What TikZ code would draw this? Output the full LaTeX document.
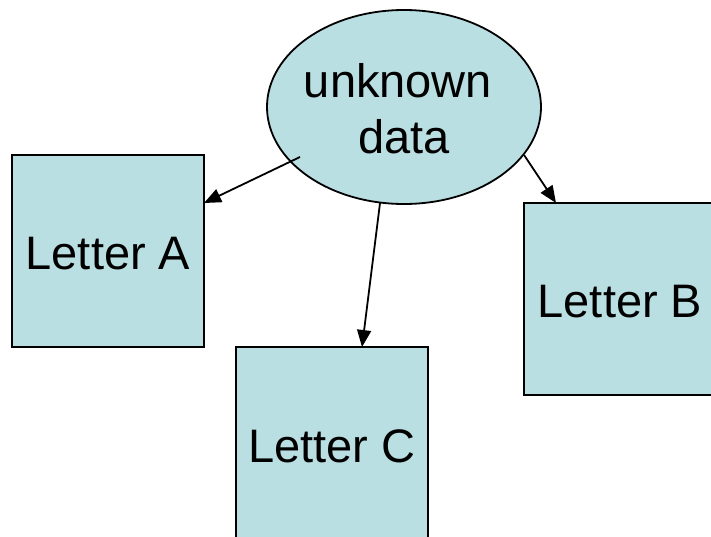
\documentclass[tikz,border=0pt]{standalone}
\usepackage{fontspec}
\setmainfont{Liberation Sans}
\usetikzlibrary{arrows.meta,shapes.geometric}
\definecolor{boxfill}{RGB}{186,223,226}
\newcommand{\lowtext}[2]{\raisebox{-#1}[\height][\depth]{#2}}
\begin{document}
\begin{tikzpicture}[x=1pt,y=-1pt,
  letterbox/.style={draw=black,line width=1.8pt,fill=boxfill,minimum width=192pt,minimum height=192pt,inner sep=0pt,font=\fontsize{47}{54}\selectfont},
  blob/.style={ellipse,draw=black,line width=1.8pt,fill=boxfill,minimum width=274pt,minimum height=194pt,inner sep=0pt,font=\fontsize{47}{56}\selectfont},
  conn/.style={line width=1.8pt,-{Triangle[length=17pt,width=14pt]}}]
\useasboundingbox (0,0) rectangle (711,536);
\clip (0,0) rectangle (711,536);
\node[letterbox] (a) at (108,251) {\lowtext{3pt}{Letter A}};
\node[letterbox] (c) at (332,443) {\lowtext{3pt}{Letter C}};
\node[letterbox] (b) at (620,299) {\lowtext{3pt}{Letter B}};
\node[blob] (u) at (404,107) {\lowtext{2pt}{\vbox{\hbox to 0pt{\hss unknown\hspace*{12pt}\hss}\hbox to 0pt{\hss data\hss}}}};
\coordinate (sa) at (300,157);
\coordinate (sc) at (380,203);
\coordinate (sb) at (524,155);
\coordinate (ea) at (204,203);
\coordinate (ec) at (362,347);
\coordinate (eb) at (556,203);
\draw[conn] (sa) -- (ea);
\draw[conn] (sc) -- (ec);
\draw[conn] (sb) -- (eb);
\end{tikzpicture}
\end{document}
